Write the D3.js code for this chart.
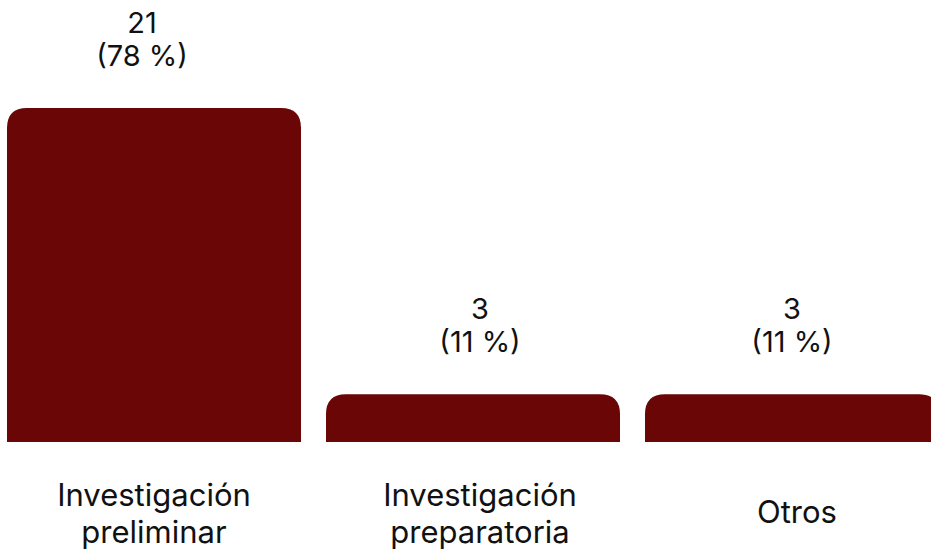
<!DOCTYPE html>
<html>
<head>
<meta charset="utf-8">
<script src="https://cdn.jsdelivr.net/npm/d3@7"></script>
<style>
  html, body { margin: 0; padding: 0; background: #fff; overflow: hidden; }
  text { font-family: Inter, "Noto Sans", sans-serif; fill: #111; }
</style>
</head>
<body>
<div id="chart"></div>
<script>
const categories = [["Investigación", "preliminar"], ["Investigación", "preparatoria"], ["Otros"]];
const counts = [21, 3, 3];
const percents = ["78 %", "11 %", "11 %"];

const width = 931, height = 556;
const baseY = 442, topY = 108, radius = 20;

// small horizontal nudges so labels sit where the original put them
const valueShift = [-12, 7, 0];
const catShift = [0, 7, 5];

const svg = d3.select("#chart").append("svg")
  .attr("width", width)
  .attr("height", height);

const keys = categories.map(c => c.join(" "));

const x = d3.scaleBand()
  .domain(keys)
  .range([7, 939])
  .paddingInner(25 / 319)
  .paddingOuter(0);

const y = d3.scaleLinear()
  .domain([0, d3.max(counts)])
  .range([baseY, topY]);

// bar with rounded top corners only
function barPath(x0, w, yTop) {
  const r = Math.min(radius, (baseY - yTop), w / 2);
  return `M${x0},${baseY}V${yTop + r}Q${x0},${yTop} ${x0 + r},${yTop}` +
         `H${x0 + w - r}Q${x0 + w},${yTop} ${x0 + w},${yTop + r}V${baseY}Z`;
}

svg.selectAll("path.bar")
  .data(counts)
  .enter()
  .append("path")
  .attr("class", "bar")
  .attr("d", (d, i) => barPath(x(keys[i]), x.bandwidth(), y(d)))
  .attr("fill", "#6a0606");

const labels = svg.selectAll("g.val")
  .data(counts)
  .enter()
  .append("g")
  .attr("class", "val")
  .attr("transform", (d, i) => `translate(${x(keys[i]) + x.bandwidth() / 2 + valueShift[i]}, ${y(d)})`);

labels.append("text")
  .attr("text-anchor", "middle")
  .attr("y", -75)
  .style("font-size", "29px")
  .text(d => d);

labels.append("text")
  .attr("text-anchor", "middle")
  .attr("y", -42)
  .style("font-size", "29px")
  .text((d, i) => `(${percents[i]})`);

const cats = svg.selectAll("text.cat")
  .data(categories)
  .enter()
  .append("text")
  .attr("class", "cat")
  .attr("text-anchor", "middle")
  .attr("x", (d, i) => x(keys[i]) + x.bandwidth() / 2 + catShift[i])
  .attr("y", d => d.length > 1 ? 506 : 523)
  .style("font-size", "31px");

cats.selectAll("tspan")
  .data(d => d)
  .enter()
  .append("tspan")
  .attr("x", function () { return d3.select(this.parentNode).attr("x"); })
  .attr("dy", (d, i) => i === 0 ? 0 : 37)
  .text(d => d);
</script>
</body>
</html>
